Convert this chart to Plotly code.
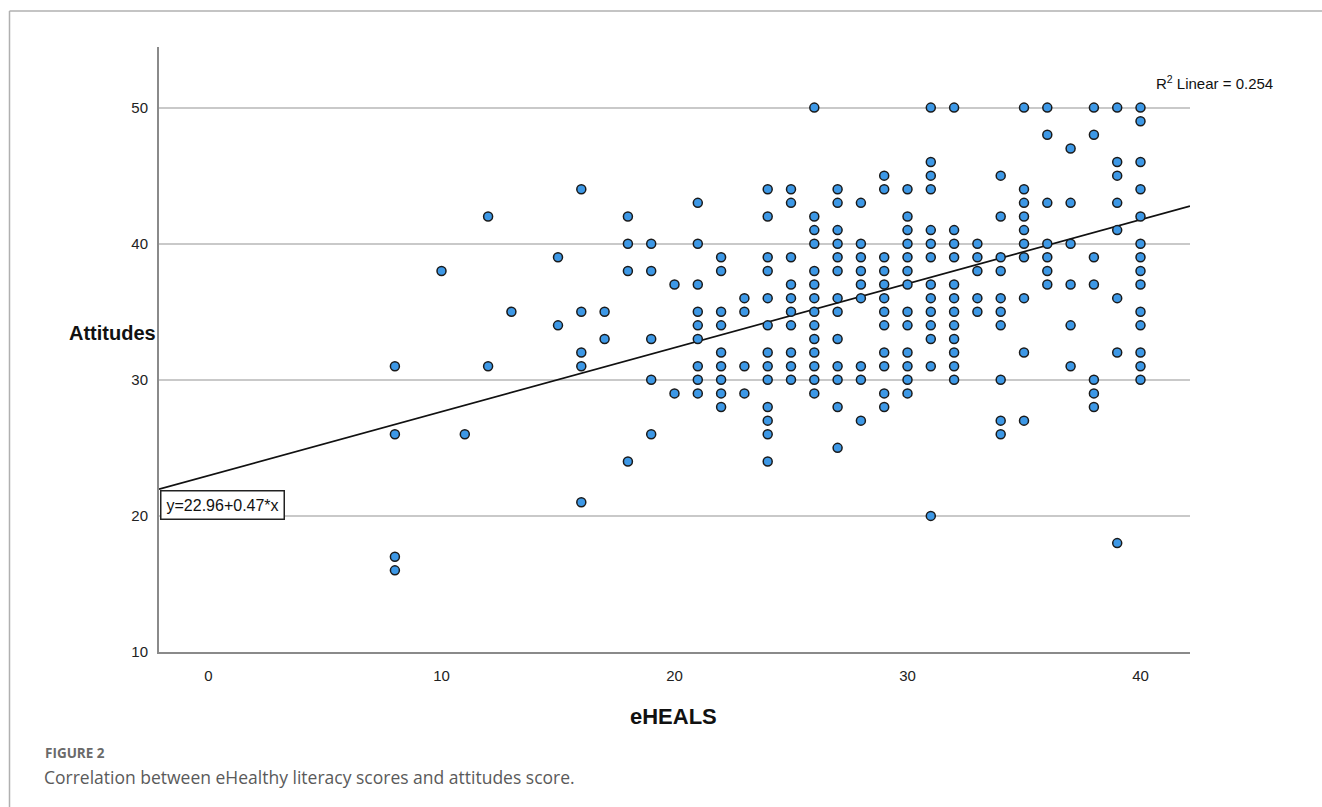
import plotly.graph_objects as go

# ---- data (eHEALS score, Attitudes score) ----
eheals = (
    [8] * 4 + [10] + [11] + [12] * 2 + [13] + [15] * 2 + [16] * 5 + [17] * 2 +
    [18] * 4 + [19] * 5 + [20] * 2 + [21] * 9 + [22] * 9 + [23] * 4 +
    [24] * 13 + [25] * 10 + [26] * 14 + [27] * 13 + [28] * 9 + [29] * 12 +
    [30] * 13 + [31] * 14 + [32] * 12 + [33] * 5 + [34] * 10 + [35] * 10 +
    [36] * 7 + [37] * 6 + [38] * 7 + [39] * 8 + [40] * 14
)
attitudes = (
    [31, 26, 17, 16] +                      # 8
    [38] +                                  # 10
    [26] +                                  # 11
    [42, 31] +                              # 12
    [35] +                                  # 13
    [39, 34] +                              # 15
    [44, 35, 32, 31, 21] +                  # 16
    [35, 33] +                              # 17
    [42, 40, 38, 24] +                      # 18
    [40, 38, 33, 30, 26] +                  # 19
    [37, 29] +                              # 20
    [43, 40, 37, 35, 34, 33, 31, 30, 29] +  # 21
    [39, 38, 35, 34, 32, 31, 30, 29, 28] +  # 22
    [36, 35, 31, 29] +                      # 23
    [44, 42, 39, 38, 36, 34, 32, 31, 30, 28, 27, 26, 24] +  # 24
    [44, 43, 39, 37, 36, 35, 34, 32, 31, 30] +              # 25
    [50, 42, 41, 40, 38, 37, 36, 35, 34, 33, 32, 31, 30, 29] +  # 26
    [44, 43, 41, 40, 39, 38, 36, 35, 33, 31, 30, 28, 25] +  # 27
    [43, 40, 39, 38, 37, 36, 31, 30, 27] +  # 28
    [45, 44, 39, 38, 37, 36, 35, 34, 32, 31, 29, 28] +      # 29
    [44, 42, 41, 40, 39, 38, 37, 35, 34, 32, 31, 30, 29] +  # 30
    [50, 46, 45, 44, 41, 40, 39, 37, 36, 35, 34, 33, 31, 20] +  # 31
    [50, 41, 40, 39, 37, 36, 35, 34, 33, 32, 31, 30] +      # 32
    [40, 39, 38, 36, 35] +                  # 33
    [45, 42, 39, 38, 36, 35, 34, 30, 27, 26] +  # 34
    [50, 44, 43, 42, 41, 40, 39, 36, 32, 27] +  # 35
    [50, 48, 43, 40, 39, 38, 37] +          # 36
    [47, 43, 40, 37, 34, 31] +              # 37
    [50, 48, 39, 37, 30, 29, 28] +          # 38
    [50, 46, 45, 43, 41, 36, 32, 18] +      # 39
    [50, 49, 46, 44, 42, 40, 39, 38, 37, 35, 34, 32, 31, 30]  # 40
)
fit_intercept = 22.96
fit_slope = 0.47
r_squared = 0.254
x_ticks = [0, 10, 20, 30, 40]
y_ticks = [10, 20, 30, 40, 50]

# ---- layout geometry ----
W, H = 1322, 807
ML, MR, MT, MB = 159, 132, 47, 155
PW, PH = W - ML - MR, H - MT - MB
px_per_x = 23.3
px_per_y = 13.61
x0 = -(208.5 - ML) / px_per_x
x1 = x0 + PW / px_per_x
y0 = 10
y1 = y0 + PH / px_per_y


def px(xp):
    return (xp - ML) / PW


def py(yp):
    return (H - MB - yp) / PH


fig = go.Figure()

fig.add_trace(go.Scatter(
    x=[x0, x1],
    y=[fit_intercept + fit_slope * x0, fit_intercept + fit_slope * x1],
    mode="lines",
    line=dict(color="#111111", width=1.8),
    hoverinfo="skip",
    showlegend=False,
))

fig.add_trace(go.Scatter(
    x=eheals, y=attitudes, mode="markers",
    marker=dict(size=9, color="#3d98e6",
                line=dict(color="#1a1a1a", width=1.5)),
    showlegend=False,
))

axis_font = dict(family="Liberation Sans, Arial, sans-serif", size=15, color="#222222")

fig.update_xaxes(
    range=[x0, x1], tickvals=x_ticks, showgrid=False, zeroline=False,
    showline=True, linecolor="#8a8a8a", linewidth=2,
    ticks="outside", ticklen=9, tickcolor="rgba(0,0,0,0)",
    tickfont=axis_font,
)
fig.update_yaxes(
    range=[y0, y1], tickvals=y_ticks, showgrid=True, gridcolor="#c9c9c9",
    gridwidth=1.6, zeroline=False,
    showline=True, linecolor="#8a8a8a", linewidth=2,
    ticks="outside", ticklen=6, tickcolor="rgba(0,0,0,0)",
    tickfont=axis_font,
)

title_font = dict(family="Liberation Sans, Arial, sans-serif", size=20, color="#111111")

annotations = [
    dict(text="<b>eHEALS</b>", x=px(673), y=py(716), xref="paper", yref="paper",
         xanchor="center", yanchor="middle", showarrow=False,
         font=dict(family="Liberation Sans, Arial, sans-serif", size=22, color="#111111")),
    dict(text="<b>Attitudes</b>", x=px(158), y=py(333), xref="paper", yref="paper",
         xanchor="right", yanchor="middle", showarrow=False, font=title_font),
    dict(text=f"R<sup>2</sup> Linear = {r_squared}", x=px(1154), y=py(82),
         xref="paper", yref="paper", xanchor="left", yanchor="middle",
         showarrow=False,
         font=dict(family="Liberation Sans, Arial, sans-serif", size=15, color="#111111")),
    dict(text=f"y={fit_intercept}+{fit_slope}*x", x=px(160), y=py(505),
         xref="paper", yref="paper", xanchor="left", yanchor="middle",
         showarrow=False, bgcolor="white", bordercolor="#222222",
         borderwidth=1.5, borderpad=5,
         font=dict(family="Liberation Sans, Arial, sans-serif", size=16, color="#111111")),
    dict(text="<b>FIGURE 2</b>", x=px(43), y=py(753), xref="paper", yref="paper",
         xanchor="left", yanchor="middle", showarrow=False,
         font=dict(family="Open Sans, sans-serif", size=13.5, color="#6a6a6a")),
    dict(text="Correlation between eHealthy literacy scores and attitudes score.",
         x=px(42), y=py(777), xref="paper", yref="paper",
         xanchor="left", yanchor="middle", showarrow=False,
         font=dict(family="Open Sans, sans-serif", size=17.5, color="#5a5a5a")),
]

shapes = [
    dict(type="line", xref="paper", yref="paper",
         x0=px(9.5), x1=px(9.5), y0=py(11), y1=py(H + 2),
         line=dict(color="#b0b0b0", width=1.5)),
    dict(type="line", xref="paper", yref="paper",
         x0=px(9.5), x1=px(W + 2), y0=py(11), y1=py(11),
         line=dict(color="#b0b0b0", width=1.5)),
]

fig.update_layout(
    width=W, height=H, autosize=False,
    margin=dict(l=ML, r=MR, t=MT, b=MB),
    plot_bgcolor="white", paper_bgcolor="white",
    annotations=annotations, shapes=shapes,
)

fig.write_html(
    "out.html",
    config={"displayModeBar": False},
    post_script="document.body.style.margin='0';document.body.style.overflow='hidden';",
)
